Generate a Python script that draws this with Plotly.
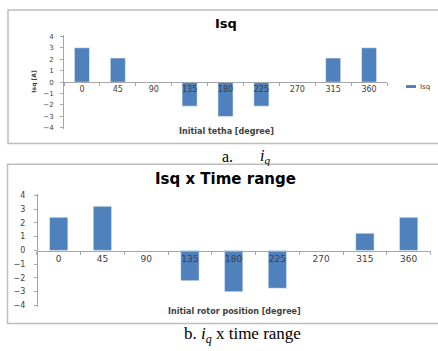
import plotly.graph_objects as go

categories = ["0", "45", "90", "135", "180", "225", "270", "315", "360"]
isq_values = [3, 2.1, 0, -2.1, -3, -2.1, 0, 2.1, 3]
isq_time_values = [2.4, 3.2, 0, -2.2, -3, -2.75, 0, 1.25, 2.4]
y_ticks = [-4, -3, -2, -1, 0, 1, 2, 3, 4]

W, H = 438, 351
BAR = "#4F81BD"
AX = "#A6A6A6"
TXT = "#404040"
FONT = "DejaVu Sans"

def px(x):
    return x / W

def py(y):
    return 1 - y / H

fig = go.Figure()
fig.add_trace(go.Bar(x=categories, y=isq_values, name="Isq", xaxis="x", yaxis="y",
                     marker=dict(color=BAR, line=dict(color="rgba(255,255,255,0.6)", width=0.8)),
                     showlegend=False))
fig.add_trace(go.Bar(x=categories, y=isq_time_values, name="Isq x Time range", xaxis="x2", yaxis="y2",
                     marker=dict(color=BAR, line=dict(color="rgba(255,255,255,0.6)", width=0.8)),
                     showlegend=False))

yr = [-4.1, 4.1]
fig.update_layout(
    xaxis=dict(domain=[px(64), px(387)], anchor="free", position=py(80),
               type="category", tickson="boundaries", ticks="outside", ticklen=3,
               tickcolor=AX, showline=True, linecolor=AX, linewidth=1,
               tickfont=dict(family=FONT, size=8, color=TXT), showgrid=False,
               zeroline=False),
    yaxis=dict(domain=[py(128.2), py(32.8)], anchor="free", position=px(63),
               range=yr, tickvals=y_ticks, ticks="outside", ticklen=3, tickcolor=AX,
               showline=True, linecolor=AX, linewidth=1, showgrid=False, zeroline=False,
               ticklabelstandoff=5,
               tickfont=dict(family=FONT, size=7, color=TXT)),
    xaxis2=dict(domain=[px(36.8), px(430.5)], anchor="free", position=py(252),
                type="category", tickson="boundaries", ticks="outside", ticklen=3,
                tickcolor=AX, showline=True, linecolor=AX, linewidth=1,
                tickfont=dict(family=FONT, size=9, color=TXT), showgrid=False,
                zeroline=False),
    yaxis2=dict(domain=[py(309.1), py(194.3)], anchor="free", position=px(37),
                range=yr, tickvals=y_ticks, ticks="outside", ticklen=3, tickcolor=AX,
                showline=True, linecolor=AX, linewidth=1, showgrid=False, zeroline=False,
                ticklabelstandoff=7,
                tickfont=dict(family=FONT, size=8, color=TXT)),
    bargap=0.58,
    width=W, height=H,
    margin=dict(l=0, r=0, t=0, b=0),
    paper_bgcolor="white", plot_bgcolor="rgba(0,0,0,0)",
    showlegend=False,
    shapes=[
        dict(type="rect", xref="paper", yref="paper", x0=px(8), x1=px(445),
             y0=py(143), y1=py(7), line=dict(color="#BDBDBD", width=1.5)),
        dict(type="rect", xref="paper", yref="paper", x0=px(7.5), x1=px(445),
             y0=py(326), y1=py(164), line=dict(color="#BDBDBD", width=1.5)),
        # legend key for the top chart
        dict(type="rect", xref="paper", yref="paper", x0=px(406), x1=px(416),
             y0=py(86.5), y1=py(83.5), line=dict(width=0), fillcolor=BAR),
    ],
)

ann = []
def a(x, y, text, size, family=FONT, color="black", angle=0, bold=False, xanchor="center"):
    t = f"<b>{text}</b>" if bold else text
    ann.append(dict(x=px(x), y=py(y), xref="paper", yref="paper", text=t, showarrow=False,
                    xanchor=xanchor, yanchor="middle", textangle=angle,
                    font=dict(family=family, size=size, color=color)))

a(226, 21, "Isq", 13, bold=True)
a(34, 80, "Isq [A]", 6, color=TXT, angle=-90, bold=True)
a(226, 131, "Initial tetha [degree]", 8, color=TXT, bold=True)
a(225, 179, "Isq x Time range", 15, bold=True)
a(234, 314, "Initial rotor position [degree]", 8, color=TXT, bold=True)
a(418, 85, "Isq", 7, color=TXT, xanchor="left")
a(227, 156, "a.", 16, family="Liberation Serif")
a(265, 156, "<i>i</i><sub><i>q</i></sub>", 16, family="Liberation Serif")
a(242, 338, "b. <i>i</i><sub><i>q</i></sub> x time range", 17, family="Liberation Serif")
fig.update_layout(annotations=ann)

fig.write_html("out.html")
